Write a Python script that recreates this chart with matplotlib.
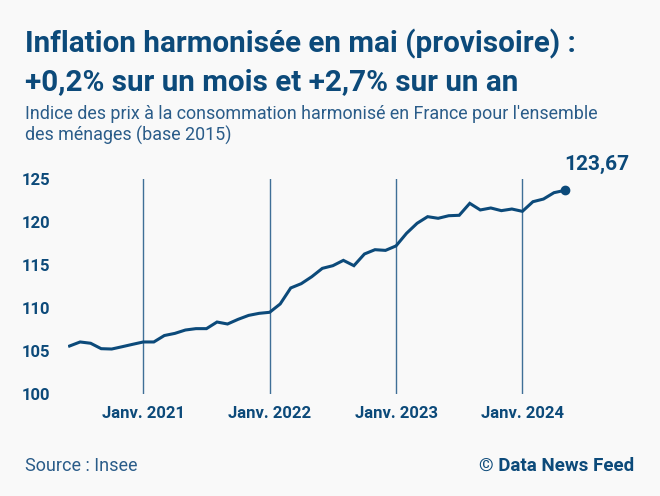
import matplotlib
matplotlib.use("Agg")
import matplotlib.pyplot as plt

# Indice des prix harmonisé (base 2015), juin 2020 -> mai 2024
months = ["2020-06", "2020-07", "2020-08", "2020-09", "2020-10", "2020-11", "2020-12",
          "2021-01", "2021-02", "2021-03", "2021-04", "2021-05", "2021-06", "2021-07",
          "2021-08", "2021-09", "2021-10", "2021-11", "2021-12",
          "2022-01", "2022-02", "2022-03", "2022-04", "2022-05", "2022-06", "2022-07",
          "2022-08", "2022-09", "2022-10", "2022-11", "2022-12",
          "2023-01", "2023-02", "2023-03", "2023-04", "2023-05", "2023-06", "2023-07",
          "2023-08", "2023-09", "2023-10", "2023-11", "2023-12",
          "2024-01", "2024-02", "2024-03", "2024-04", "2024-05"]
values = [105.58, 106.05, 105.90, 105.27, 105.23, 105.50, 105.78,
          106.05, 106.05, 106.80, 107.05, 107.44, 107.60, 107.60,
          108.37, 108.14, 108.68, 109.14, 109.38,
          109.50, 110.47, 112.33, 112.83, 113.64, 114.61, 114.92,
          115.54, 114.92, 116.28, 116.78, 116.70,
          117.22, 118.69, 119.85, 120.62, 120.43, 120.73, 120.78,
          122.17, 121.40, 121.63, 121.32, 121.51,
          121.24, 122.36, 122.67, 123.41, 123.67]
jan_labels = ["Janv. 2021", "Janv. 2022", "Janv. 2023", "Janv. 2024"]
jan_months = ["2021-01", "2022-01", "2023-01", "2024-01"]
y_ticks = [100, 105, 110, 115, 120, 125]
last_label = "123,67"

blue = "#0c4a7a"
sub_blue = "#2a5c89"
bg = "#f9f9f9"
plt.rcParams['font.family'] = ['Roboto', 'DejaVu Sans']

fig = plt.figure(figsize=(6.6, 4.96), dpi=100, facecolor=bg)
ax = fig.add_axes([68 / 660, 102 / 496, 512 / 660, 215 / 496])
ax.set_facecolor(bg)

x = list(range(len(months)))
jan_x = [months.index(m) for m in jan_months]

for jx in jan_x:
    ax.axvline(jx, color="#3f6f97", lw=1.0, zorder=1)

ax.plot(x, values, color=blue, lw=2.2, solid_joinstyle="miter", zorder=3)
ax.plot(x[-1], values[-1], "o", color=blue, ms=6, zorder=4)
ax.annotate(last_label, (x[-1], values[-1]), xytext=(0, 12), textcoords="offset points",
            ha="left", va="bottom", color=blue, fontsize=15, fontweight="bold")

ax.set_xlim(-0.15, 48.47)
ax.set_ylim(100, 125)
ax.set_yticks(y_ticks)
ax.set_xticks(jan_x)
ax.set_xticklabels(jan_labels)
ax.tick_params(axis="both", length=0, labelcolor=blue, labelsize=12)
ax.tick_params(axis="y", pad=13)
ax.tick_params(axis="x", pad=9)
for lab in ax.get_xticklabels() + ax.get_yticklabels():
    lab.set_fontweight("bold")
for s in ax.spines.values():
    s.set_visible(False)

fig.text(25 / 660, 1 - 52 / 496, "Inflation harmonisée en mai (provisoire) :",
         color=blue, fontsize=21.3, fontweight="bold", va="baseline")
fig.text(25 / 660, 1 - 90 / 496, "+0,2% sur un mois et +2,7% sur un an",
         color=blue, fontsize=21.3, fontweight="bold", va="baseline")
fig.text(25 / 660, 1 - 119 / 496,
         "Indice des prix à la consommation harmonisé en France pour l'ensemble",
         color=sub_blue, fontsize=12.9, fontweight="normal", va="baseline")
fig.text(25 / 660, 1 - 141 / 496, "des ménages (base 2015)",
         color=sub_blue, fontsize=12.9, fontweight="normal", va="baseline")
fig.text(25 / 660, 1 - 471 / 496, "Source : Insee",
         color=sub_blue, fontsize=13, fontweight="normal", va="baseline")
fig.text(634 / 660, 1 - 471 / 496, "© Data News Feed",
         color=blue, fontsize=13.5, fontweight="bold", va="baseline", ha="right")

fig.savefig("out.png", dpi=100, facecolor=bg)
